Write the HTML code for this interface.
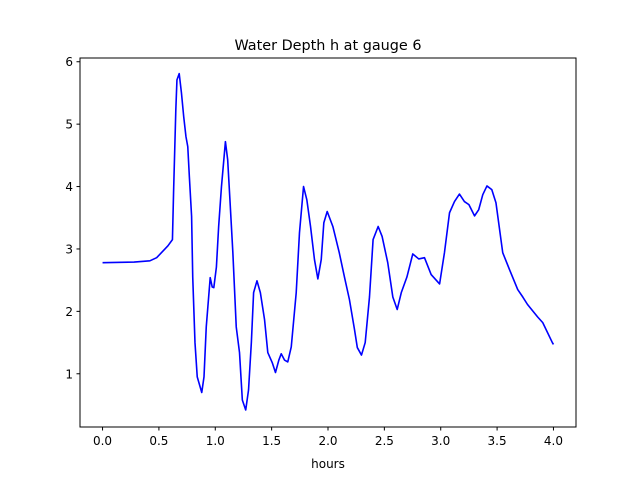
<!DOCTYPE html>
<html><head><meta charset="utf-8"><style>
body{margin:0;background:#fff;}
svg text{font-family:"DejaVu Sans","Liberation Sans",sans-serif;fill:#000;}
</style></head><body>
<svg id="chart" width="640" height="480" xmlns="http://www.w3.org/2000/svg">
<rect width="640" height="480" fill="#fff"/>
<text x="328" y="50" font-size="14.4" text-anchor="middle">Water Depth h at gauge 6</text>
<text x="328" y="468" font-size="12" text-anchor="middle">hours</text>
<g id="ticks"></g>
<path id="line" fill="none" stroke="#0000ff" stroke-width="1.6" stroke-linejoin="round"/>
<rect x="80" y="58" width="496" height="369" fill="none" stroke="#000" stroke-width="1"/>
</svg>
<script>
const hours=[0,0.28,0.42,0.48,0.58,0.62,0.63,0.65,0.66,0.68,0.70,0.72,0.74,0.756,0.77,0.79,0.80,0.82,0.84,0.88,0.90,0.92,0.955,0.973,0.987,1.01,1.03,1.055,1.09,1.11,1.13,1.156,1.186,1.215,1.24,1.27,1.295,1.32,1.34,1.37,1.40,1.437,1.466,1.505,1.534,1.564,1.585,1.614,1.643,1.674,1.718,1.747,1.783,1.812,1.845,1.88,1.91,1.94,1.963,1.993,2.043,2.10,2.146,2.19,2.235,2.26,2.297,2.33,2.368,2.40,2.445,2.48,2.53,2.575,2.614,2.65,2.70,2.752,2.805,2.856,2.915,2.99,3.033,3.078,3.122,3.166,3.21,3.25,3.30,3.337,3.373,3.41,3.453,3.49,3.55,3.61,3.683,3.728,3.77,3.86,3.905,3.99,4.0];
const depth=[2.78,2.79,2.81,2.86,3.05,3.15,3.90,5.23,5.71,5.81,5.50,5.12,4.80,4.64,4.16,3.52,2.55,1.50,0.95,0.70,0.95,1.75,2.54,2.39,2.38,2.71,3.36,4.00,4.72,4.43,3.79,2.94,1.75,1.34,0.58,0.42,0.74,1.50,2.30,2.49,2.30,1.87,1.34,1.18,1.02,1.22,1.32,1.22,1.19,1.43,2.30,3.26,4.00,3.79,3.36,2.83,2.52,2.83,3.42,3.60,3.36,2.94,2.55,2.19,1.71,1.42,1.30,1.50,2.23,3.15,3.36,3.20,2.78,2.23,2.03,2.30,2.55,2.92,2.84,2.86,2.59,2.44,2.94,3.58,3.76,3.88,3.76,3.71,3.53,3.63,3.87,4.01,3.95,3.74,2.94,2.67,2.35,2.23,2.11,1.91,1.82,1.50,1.47];
const xTicks=[0,0.5,1,1.5,2,2.5,3,3.5,4];
const xTickLabels=["0.0","0.5","1.0","1.5","2.0","2.5","3.0","3.5","4.0"];
const yTicks=[1,2,3,4,5,6];
const yTickLabels=["1","2","3","4","5","6"];
const L=80,R=576,T=58,B=427;
const xMin=-0.2,xMax=4.2,yMin=0.147,yMax=6.06;
function sx(v){return L+(v-xMin)/(xMax-xMin)*(R-L);}
function sy(v){return B-(v-yMin)/(yMax-yMin)*(B-T);}
const NS="http://www.w3.org/2000/svg";
const g=document.getElementById('ticks');
xTicks.forEach((t,i)=>{
  const l=document.createElementNS(NS,'line');
  
  
  l.setAttribute('x1',sx(t));l.setAttribute('x2',sx(t));l.setAttribute('y1',B);l.setAttribute('y2',B+3.5);l.setAttribute('stroke','#000');
  g.appendChild(l);
  const tx=document.createElementNS(NS,'text');
  
  
  tx.setAttribute('x',sx(t));tx.setAttribute('y',B+18);tx.setAttribute('font-size','12');tx.setAttribute('text-anchor','middle');
  tx.textContent=xTickLabels[i];g.appendChild(tx);
});
yTicks.forEach((t,i)=>{
  const l=document.createElementNS(NS,'line');
  
  
  l.setAttribute('x1',L-3.5);l.setAttribute('x2',L);l.setAttribute('y1',sy(t));l.setAttribute('y2',sy(t));l.setAttribute('stroke','#000');
  g.appendChild(l);
  const tx=document.createElementNS(NS,'text');
  
  
  tx.setAttribute('x',L-7);tx.setAttribute('y',sy(t)+4.5);tx.setAttribute('font-size','12');tx.setAttribute('text-anchor','end');
  tx.textContent=yTickLabels[i];g.appendChild(tx);
});
let d='';
hours.forEach((h,i)=>{d+=(i?'L':'M')+sx(h).toFixed(2)+','+sy(depth[i]).toFixed(2);});
document.getElementById('line').setAttribute('d',d);
</script>
</body></html>
